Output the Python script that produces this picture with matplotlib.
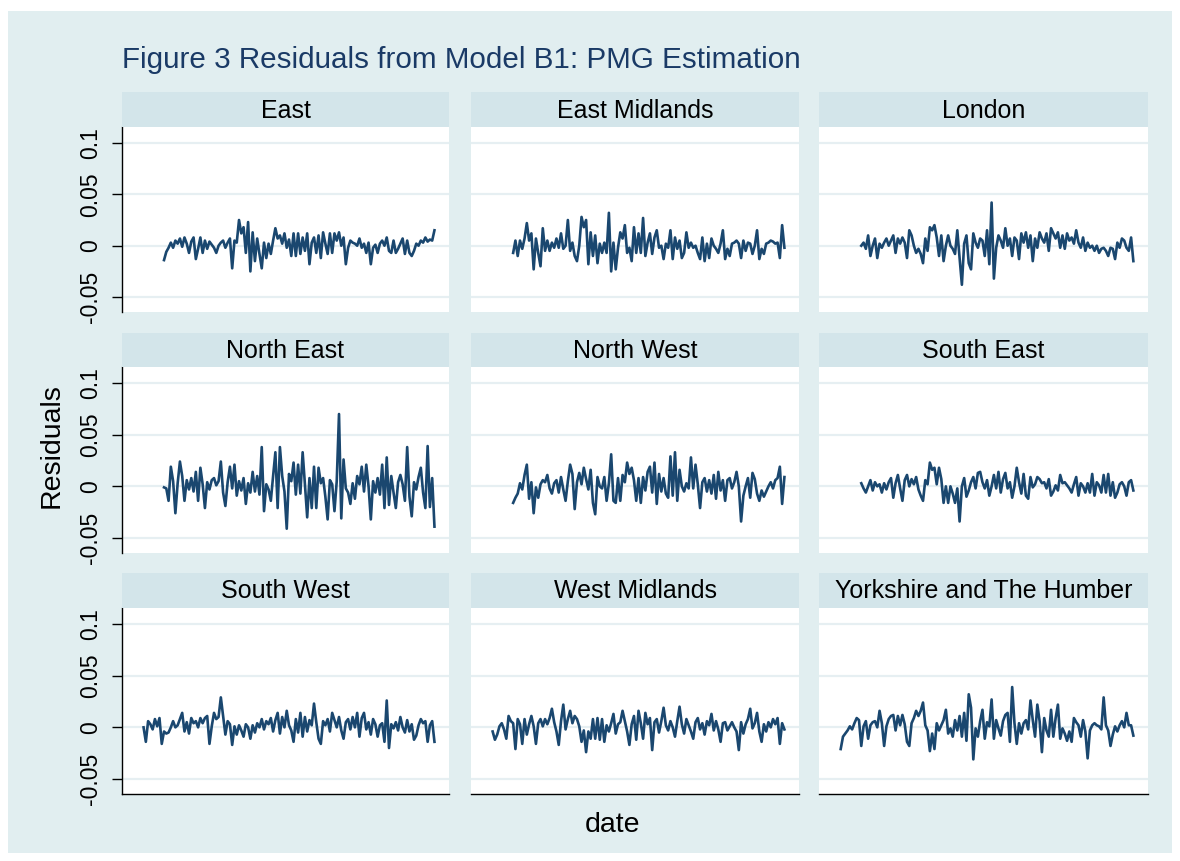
import numpy as np
import matplotlib
matplotlib.use("Agg")
import matplotlib.pyplot as plt
from matplotlib.patches import Rectangle

# ---------------- data (residuals, in units of 0.001) ----------------
regions = ["East", "East Midlands", "London",
           "North East", "North West", "South East",
           "South West", "West Midlands", "Yorkshire and The Humber"]

east = [-14, -6, -2, 3, -2, 5, 2, 7, -1, 8,
        2, -7, 4, 8, -13, -3, 8, -7, 5, -3,
        4, 1, -2, -7, 0, 3, 5, -2, 3, 7,
        -22, 5, 3, 25, 12, 18, -7, 23, -25, 13,
        -15, 7, -8, -22, 3, -12, 2, -8, 5, 17,
        7, 10, 2, 12, -2, 6, -10, 12, -10, 12,
        -8, 8, -5, 12, -18, 3, 8, -7, 10, -12,
        13, 2, -8, 12, -7, 12, 5, 13, 0, 8,
        -18, -2, 5, 3, 2, 0, 7, -2, 2, -7,
        3, -18, -2, 1, -7, 2, 5, 0, 8, -5,
        -7, 5, -7, -3, 2, 7, -8, 5, -7, -10,
        -5, 2, 0, 5, 3, 8, 4, 6, 5, 15]

east_midlands = [-7, 5, -10, 5, -3, 7, 22, 5, 12, -23,
                 7, -7, -20, 17, -5, 5, -5, 3, -2, 7,
                 -2, 12, -3, 0, 25, -5, 3, -10, -15, 0,
                 28, 18, 25, -18, 13, -10, 10, -17, 2, -7,
                 3, -7, 32, -25, 3, -23, -2, 13, 7, 20,
                 -7, -2, -15, 18, -7, 12, -7, 27, -10, 3,
                 12, -8, 8, 15, -2, 0, -13, 2, -2, 15,
                 -13, 8, -3, 5, -12, -7, 13, -2, 3, -2,
                 0, -7, -13, 8, -15, 2, -12, 7, 0, -3,
                 -7, 2, 15, -13, -3, -10, 2, 3, 5, 2,
                 -12, 5, -5, 3, 2, -8, 0, 15, -13, -3,
                 -8, 2, 3, 5, 4, 2, 3, -12, 20, -2]

london = [0, 3, -3, 10, -10, 0, 7, -12, 2, -2,
          3, 7, 0, 5, 10, -7, 7, 2, 8, 3,
          -12, 15, 10, 0, -7, -3, -8, -17, 7, -5,
          18, 15, 20, 8, -10, 10, -15, 0, 10, 0,
          -3, -8, 15, -12, -38, 2, 10, -17, -23, 12,
          3, -2, 7, 5, -10, 15, -18, 42, -32, -2,
          10, 5, -2, 17, 0, 7, -10, 8, 5, -13,
          12, 3, 13, -2, 10, -15, 7, -2, 13, 7,
          3, 12, -5, 17, 12, 7, 13, -2, 10, -3,
          12, 5, 8, 2, 15, 3, -2, 8, -5, 3,
          -2, 0, -5, 0, -7, -3, -2, -5, -10, -2,
          -3, -13, 3, -2, 7, 5, -2, -5, 8, -15]

north_east = [-1, -2, -14, 19, 5, -26, 3, 24, 10, -14,
              6, -3, 8, -5, 14, -14, 18, 2, -21, 4,
              -3, 6, 8, 1, 5, 24, -6, -19, 4, 19,
              -2, 21, -9, 5, -4, 8, -17, 3, -6, 14,
              -5, 10, -8, 38, -24, 2, -3, -14, 10, 33,
              -21, 38, 10, -5, -41, 12, 5, 23, -8, 21,
              -7, 33, 2, -30, 8, -21, 19, -21, 18, 3,
              8, -10, -32, 6, 2, -24, 5, 70, -31, 26,
              -2, -6, -17, 3, -12, 10, 2, 19, -5, 21,
              0, -32, 5, -6, 8, -8, 21, -21, 28, -18,
              10, -6, -21, 4, 11, 2, -14, 38, -10, -29,
              4, -3, 9, 18, -6, -21, 39, -20, 8, -39]

north_west = [-16, -11, -7, 3, -3, 11, 21, -12, 4, -26,
              -1, -11, 2, 6, 4, 11, -2, -7, 3, 6,
              -6, 9, -3, -14, 5, 21, 12, -22, 4, 13,
              2, 18, 7, -3, 16, -16, -27, 9, 0, -2,
              9, -14, 3, 31, -14, -16, 8, -14, 11, 4,
              23, 12, 18, 6, -14, 8, -16, 9, -4, 14,
              19, -6, 23, -17, 12, -5, 8, -7, -11, 29,
              -9, 33, -14, 16, 0, -5, 3, -2, 28, -2,
              21, 2, -21, 4, 8, -5, 6, -7, 11, -12,
              14, -4, 6, -14, 6, 8, -2, 4, 14, 0,
              -34, -9, 0, 8, -11, 13, 7, -7, -14, -4,
              -10, -5, 0, 4, -2, 6, 8, 19, -17, 9]

south_east = [3, -2, -6, 0, 6, -4, 4, 0, 2, -6,
              3, -3, 4, 8, -11, 3, 11, -2, -14, 6,
              11, 0, 7, 2, 9, -3, -9, -14, 6, 2,
              23, 16, 18, 2, 18, 7, -16, 0, -16, 0,
              -7, -16, -2, -34, 0, 8, -10, -4, 4, 9,
              -2, 13, 14, 4, -2, 6, -9, 0, 11, -2,
              14, -6, 7, 13, -2, 4, -11, 0, 18, 4,
              -7, 12, -9, -12, 9, -1, 2, 9, 7, 3,
              4, -2, 7, -9, -5, 1, -4, 11, 3, 4,
              1, -2, -6, 2, 9, -9, 3, 0, -6, 3,
              -6, 12, -9, 4, 1, -6, 11, -6, 12, -9,
              4, -11, -6, 2, 4, 0, -9, 4, 6, -4]

south_west = [0, -14, 6, 3, -2, 8, 1, 9, -16, -4,
              -6, -5, 0, 6, 0, 2, 8, 14, -4, 5,
              -6, 9, 4, 6, 0, 9, 4, 9, 11, -16,
              1, 14, 8, 10, 29, 11, -7, 6, 3, -17,
              1, -7, 2, -3, -9, 3, 0, -11, 2, -5,
              4, 0, 8, -2, 6, 3, 9, -4, 7, 14,
              -6, 10, 0, 16, 2, -3, -14, 8, -5, 14,
              -9, 10, -4, 7, 2, 23, 5, -11, -16, 6,
              2, 8, -4, 14, 7, 0, 10, -3, -11, 5,
              8, -2, 10, 0, 14, -9, 9, 14, -2, 5,
              -7, 8, 3, -9, 2, 4, -14, 26, -20, 3,
              -1, 5, -3, 10, 0, -5, 7, -4, 3, -12,
              -8, 2, 8, 4, 6, -14, 2, 6, -14]

west_midlands = [-4, -12, -7, 1, 4, -2, -11, 11, 6, 4,
                 -21, 8, 3, -16, 8, -7, 3, 11, 1, -16,
                 4, 8, 1, 8, 3, 9, 18, 5, -4, -17,
                 6, 22, -2, 8, 16, 4, 11, 8, 1, -14,
                 -3, -24, -4, -11, 8, -11, 9, -12, 8, -14,
                 2, -4, 4, 13, -6, 3, 5, 16, 6, -4,
                 -17, 3, 11, -12, 16, 4, -11, 14, 3, 9,
                 -22, 5, 8, -5, 6, 19, 2, -3, 6, 0,
                 -9, 6, 20, 3, -6, 8, 2, -4, -11, 5,
                 9, -2, 4, -7, 6, 2, 13, -3, 6, -2,
                 -14, 4, 5, -3, 1, 5, 0, -4, -22, 5,
                 -6, 3, 8, 18, -1, 4, 14, -4, -14, 3,
                 -4, 5, 0, 8, 3, 9, -16, 4, -2]

yorkshire = [-21, -9, -6, -3, 1, -2, 4, 9, 7, -18,
             1, 6, -11, 2, 5, 6, 0, 16, 4, -18,
             1, 8, 11, 12, -3, 11, 2, 12, 3, -14,
             -18, 4, 9, 16, 11, 16, 24, 2, -3, -23,
             -6, -21, 4, -3, 2, 7, 17, -6, -1, -9,
             7, -3, 11, -9, 14, -13, 32, 19, -31, -1,
             -9, 6, 17, -11, 5, 1, 27, -11, 7, -1,
             -8, 6, 12, 14, -14, 39, 4, -16, 4, -6,
             4, 7, -2, 26, 7, -9, 22, 6, -24, 9,
             -3, -9, 17, -9, 9, 22, -11, -1, -6, -13,
             -4, -14, 9, 5, 2, -9, 7, -4, -30, -3,
             2, 4, 2, 1, -2, 29, 2, -3, -18, -7,
             1, -4, 2, 6, 0, 14, 2, 2, -8]

series = [east, east_midlands, london, north_east, north_west, south_east,
          south_west, west_midlands, yorkshire]
UNIT = 0.001          # values above are in thousandths
LAST_MONTH = 128      # all series end in the same month

yticks = [-0.05, 0, 0.05, 0.1]
ytick_labels = ["-0.05", "0", "0.05", "0.1"]

title = "Figure 3 Residuals from Model B1: PMG Estimation"
ylabel = "Residuals"
xlabel = "date"

# ---------------- style ----------------
FONT = ["Liberation Sans", "DejaVu Sans"]
plt.rcParams["font.family"] = FONT
BG = "#e1eef0"
STRIP = "#d3e5ea"
GRID = "#e6eff2"
LINE = "#1a476f"
TITLE_C = "#1a3a66"

W, H = 1180, 861
fig = plt.figure(figsize=(W / 100, H / 100), dpi=100)
fig.patch.set_facecolor("white")

def fx(x):
    return x / W

def fy(y):
    return 1 - y / H

fig.add_artist(Rectangle((fx(8), fy(853)), fx(1172) - fx(8), fy(11) - fy(853),
                         transform=fig.transFigure, facecolor=BG,
                         edgecolor="none", zorder=0))

cols = [(122, 449), (471, 799), (819, 1148)]
rows = [((92, 127), (127, 312)), ((333, 367), (367, 553)), ((573, 608), (608, 794))]

# x range: earliest month at index 0, last at LAST_MONTH
px_per_month = 290 / LAST_MONTH
xlo = -21.5 / px_per_month
xhi = LAST_MONTH + 14.5 / px_per_month

for i, (name, vals) in enumerate(zip(regions, series)):
    r, c = divmod(i, 3)
    (sy0, sy1), (py0, py1) = rows[r]
    x0, x1 = cols[c]
    # strip
    fig.add_artist(Rectangle((fx(x0), fy(sy1)), fx(x1) - fx(x0), fy(sy0) - fy(sy1),
                             transform=fig.transFigure, facecolor=STRIP,
                             edgecolor="none", zorder=1))
    fig.text(fx((x0 + x1) / 2), fy((sy0 + sy1) / 2 + 1), name, ha="center",
             va="center", fontsize=18, color="black")
    ax = fig.add_axes([fx(x0), fy(py1), fx(x1) - fx(x0), fy(py0) - fy(py1)])
    ax.set_facecolor("white")
    n = len(vals)
    months = np.arange(LAST_MONTH - n + 1, LAST_MONTH + 1)
    y = np.array(vals) * UNIT
    ax.plot(months, y, color=LINE, lw=1.9, solid_joinstyle="round", zorder=3)
    ax.set_xlim(xlo, xhi)
    ax.set_ylim(-0.0645, 0.1155)
    for t in yticks:
        ax.axhline(t, color=GRID, lw=1.6, zorder=1)
    for s in ax.spines.values():
        s.set_visible(False)
    ax.set_xticks([])
    ax.set_yticks(yticks)
    if c == 0:
        ax.spines["left"].set_visible(True)
        ax.spines["left"].set_color("black")
        ax.spines["left"].set_linewidth(1.0)
        ax.set_yticklabels(ytick_labels)
        ax.tick_params(axis="y", length=7.2, width=1.0, pad=7,
                       labelsize=16.5, labelrotation=90)
        for lbl in ax.get_yticklabels():
            lbl.set_va("center")
    else:
        ax.tick_params(axis="y", length=0, labelleft=False)
    if r == 2:
        ax.spines["bottom"].set_visible(True)
        ax.spines["bottom"].set_color("black")
        ax.spines["bottom"].set_linewidth(1.0)

fig.text(fx(122), fy(68), title, ha="left", va="baseline", fontsize=21.3,
         color=TITLE_C)
fig.text(fx(52), fy(446), ylabel, ha="center", va="center", rotation=90,
         fontsize=20.5, color="black")
fig.text(fx(613), fy(825), xlabel, ha="center", va="center", fontsize=20.5,
         color="black")

fig.savefig("out.png", dpi=100, facecolor=fig.get_facecolor())
